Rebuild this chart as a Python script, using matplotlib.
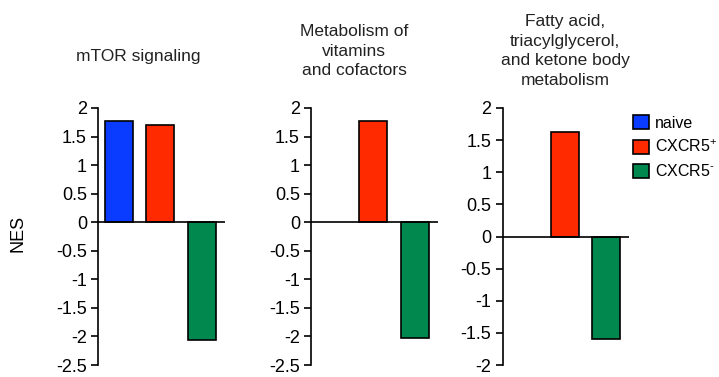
import numpy as np
import matplotlib
matplotlib.use("Agg")
import matplotlib.pyplot as plt
from matplotlib.patches import Patch

plt.rcParams['font.family'] = ['Liberation Sans', 'DejaVu Sans']
plt.rcParams['mathtext.fontset'] = 'custom'
plt.rcParams['mathtext.rm'] = 'Liberation Sans'
plt.rcParams['mathtext.it'] = 'Liberation Sans:italic'

groups = ['naive', 'CXCR5$^{+}$', 'CXCR5$^{\\text{-}}$']
colors = ['#0a3cff', '#ff2a00', '#00884f']

titles = ['mTOR signaling',
          'Metabolism of\nvitamins\nand cofactors',
          'Fatty acid,\ntriacylglycerol,\nand ketone body\nmetabolism']

# NES per group, nan = not enriched
mtor = [1.78, 1.70, -2.07]
vitamins = [np.nan, 1.78, -2.03]
fatty = [np.nan, 1.63, -1.59]
panels = [mtor, vitamins, fatty]

yticks = [np.arange(-2.5, 2.01, 0.5), np.arange(-2.5, 2.01, 0.5), np.arange(-2.0, 2.01, 0.5)]
ylims = [(-2.5, 2.0), (-2.5, 2.0), (-2.0, 2.0)]

W, H = 719, 377
fig = plt.figure(figsize=(W / 100, H / 100), dpi=100)

lefts = [98, 311, 502.5]
title_x = [138, 354, 565]
title_y = [57, 51, 51]

for i, vals in enumerate(panels):
    ax = fig.add_axes([lefts[i] / W, 12 / H, 126.5 / W, 257 / H])
    x = np.arange(len(groups))
    for j in range(len(groups)):
        if not np.isnan(vals[j]):
            ax.bar(x[j], vals[j], width=0.68, color=colors[j], edgecolor='black', linewidth=1.2, zorder=2)
    ax.axhline(0, color='black', linewidth=1.2, zorder=3)
    ax.set_xlim(-0.5, 2.55)
    ax.set_ylim(*ylims[i])
    ax.set_yticks(yticks[i])
    ax.set_yticklabels(['%g' % t for t in yticks[i]])
    ax.set_xticks([])
    for s in ['top', 'right', 'bottom']:
        ax.spines[s].set_visible(False)
    ax.spines['left'].set_linewidth(1.2)
    ax.tick_params(axis='y', direction='out', length=5, width=1.2, labelsize=13, pad=3)
    ax.patch.set_alpha(0)
    fig.text(title_x[i] / W, 1 - title_y[i] / H, titles[i], ha='center', va='center',
             fontsize=12.5, linespacing=1.38, color='#222222')

fig.text(18 / W, 1 - 233 / H, 'NES', rotation=90, ha='center', va='center', fontsize=13)

handles = [Patch(facecolor=c, edgecolor='black', linewidth=1.2) for c in colors]
fig.legend(handles, groups, loc='upper left', bbox_to_anchor=(633 / W, 1 - 115 / H),
           frameon=False, fontsize=11.5, handlelength=1.0, handleheight=1.0,
           handletextpad=0.38, labelspacing=0.5, borderaxespad=0, borderpad=0)

fig.savefig('out.png', dpi=100)
